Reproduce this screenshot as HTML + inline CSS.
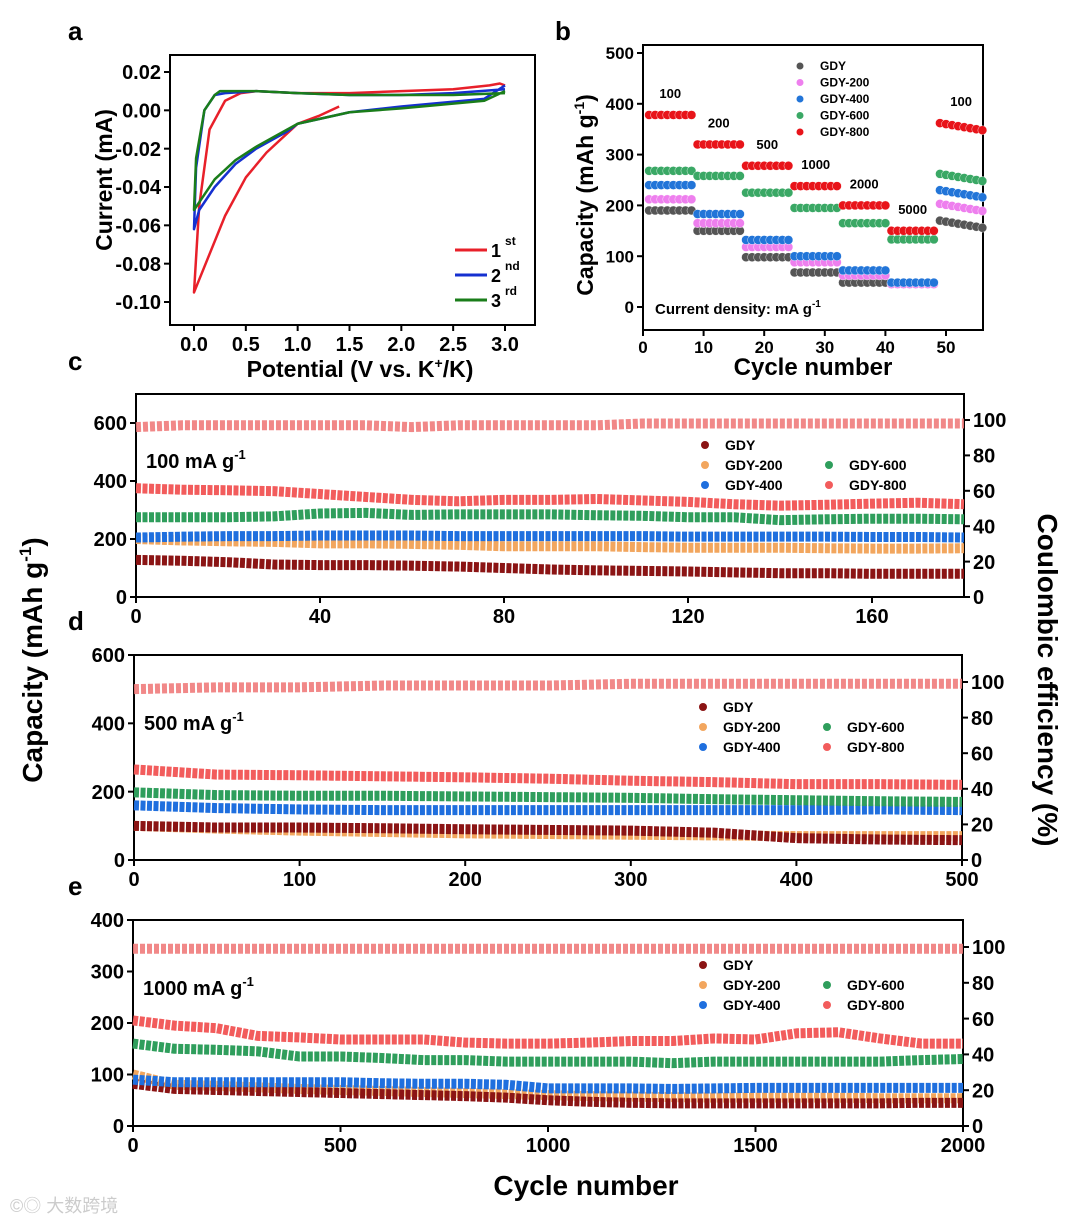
<!DOCTYPE html>
<html><head><meta charset="utf-8"><style>
body{margin:0;background:#fff}
svg{display:block;font-family:"Liberation Sans",Arial,sans-serif;font-weight:bold}
</style></head><body>
<svg id="fig" width="1080" height="1223" viewBox="0 0 1080 1223" xmlns="http://www.w3.org/2000/svg">
<text x="68" y="40" font-size="26">a</text>
<text x="555" y="40" font-size="26">b</text>
<text x="68" y="370" font-size="26">c</text>
<text x="68" y="630" font-size="26">d</text>
<text x="68" y="895" font-size="26">e</text>
<text transform="translate(112,180) rotate(-90)" text-anchor="middle" font-size="23">Current (mA)</text>
<text x="360" y="377" text-anchor="middle" font-size="23">Potential (V vs. K<tspan font-size="14" dy="-9">+</tspan><tspan dy="9">/K)</tspan></text>
<text transform="translate(593,195) rotate(-90)" text-anchor="middle" font-size="23">Capacity (mAh g<tspan font-size="14" dy="-9">-1</tspan><tspan dy="9">)</tspan></text>
<text x="813" y="375" text-anchor="middle" font-size="24">Cycle number</text>
<text transform="translate(42,660) rotate(-90)" text-anchor="middle" font-size="28">Capacity (mAh g<tspan font-size="17" dy="-11">-1</tspan><tspan dy="11">)</tspan></text>
<text transform="translate(1038,680) rotate(90)" text-anchor="middle" font-size="28">Coulombic efficiency (%)</text>
<text x="586" y="1195" text-anchor="middle" font-size="28">Cycle number</text>
<text x="10" y="1212" font-size="18" fill="#ccc" font-weight="normal" font-family="Liberation Sans, Noto Sans CJK SC, sans-serif">©◎ 大数跨境</text>
</svg>
<script>
const NS="http://www.w3.org/2000/svg";
const svg=document.getElementById('fig');
function mk(tag,attrs,parent){const e=document.createElementNS(NS,tag);for(const k in attrs)e.setAttribute(k,attrs[k]);(parent||svg).appendChild(e);return e;}

// ---------- Panel a data ----------
const cv1V=[1.4,1.2,1.0,0.9,0.7,0.5,0.3,0.15,0.0,0.05,0.15,0.3,0.45,0.6,1.0,1.5,2.0,2.5,2.85,2.95,3.0];
const cv1I=[0.002,-0.003,-0.007,-0.012,-0.022,-0.035,-0.055,-0.075,-0.095,-0.05,-0.01,0.005,0.009,0.01,0.009,0.009,0.01,0.011,0.013,0.014,0.013];
const cv2V=[3.0,2.8,2.0,1.5,1.0,0.9,0.6,0.4,0.2,0.05,0.0,0.02,0.1,0.2,0.3,0.6,1.0,1.5,2.0,2.5,3.0];
const cv2I=[0.013,0.006,0.002,-0.001,-0.007,-0.011,-0.02,-0.028,-0.04,-0.052,-0.062,-0.03,0.0,0.008,0.009,0.01,0.009,0.008,0.008,0.009,0.011];
const cv3V=[3.0,2.8,2.0,1.5,1.0,0.9,0.6,0.4,0.2,0.05,0.0,0.02,0.1,0.2,0.25,0.6,1.0,1.5,2.0,2.5,3.0];
const cv3I=[0.01,0.005,0.001,-0.001,-0.007,-0.01,-0.019,-0.026,-0.036,-0.048,-0.052,-0.025,0.0,0.008,0.01,0.01,0.009,0.008,0.008,0.008,0.009];
const cvXTicks=[0,0.5,1.0,1.5,2.0,2.5,3.0];
const cvYTicks=[0.02,0.0,-0.02,-0.04,-0.06,-0.08,-0.10];

// ---------- Panel b data ----------
const rateLabels=['100','200','500','1000','2000','5000','100'];
const rGDY=[190,150,98,68,48,45,170];
const rGDY200=[212,165,118,88,62,45,203];
const rGDY400=[240,183,132,100,72,48,230];
const rGDY600=[268,258,225,195,165,133,262];
const rGDY800=[378,320,278,238,200,150,362];
const rateXTicks=[0,10,20,30,40,50];
const rateYTicks=[0,100,200,300,400,500];

// ---------- Panel c ----------
const cCycles=[0,10,20,30,40,50,60,70,80,90,100,110,120,130,140,150,160,170,180];
const c800=[375,370,368,365,355,345,335,330,335,335,338,333,328,320,315,318,322,325,320];
const c600=[275,275,275,278,288,290,283,285,285,285,282,280,275,275,265,268,270,270,268];
const c400=[205,208,210,210,212,212,212,210,210,210,210,210,208,208,208,208,207,207,205];
const c200=[200,195,192,190,185,185,183,180,175,175,175,172,170,170,170,168,167,167,168];
const cGDY=[128,125,120,112,110,110,108,105,100,95,92,90,88,85,82,82,80,80,80];
const cCE=[96,97,97,97,97,97,96,97,97,97,97,98,98,98,98,98,98,98,98];
// ---------- Panel d ----------
const dCycles=[0,50,100,150,200,250,300,350,400,450,500];
const d800=[265,250,248,245,242,238,232,228,222,222,220];
const d600=[198,190,188,188,186,184,182,178,175,172,170];
const d400=[160,152,148,146,146,146,146,146,146,148,146];
const d200=[100,92,86,82,78,76,74,72,70,70,70];
const dGDY=[100,95,95,93,90,88,86,80,64,60,58];
const dCE=[96,97,97,98,98,98,99,99,99,99,99];
// ---------- Panel e ----------
const eCycles=[0,100,200,300,400,500,600,700,800,900,1000,1100,1200,1300,1400,1500,1600,1700,1800,1900,2000];
const e800=[205,195,190,175,172,168,168,168,162,160,160,162,165,165,170,168,180,182,170,160,160];
const e600=[160,150,148,145,135,135,132,128,128,125,125,125,125,122,125,125,125,125,125,128,130];
const e400=[90,85,85,85,85,85,83,82,82,80,73,73,73,72,73,74,74,74,74,74,74];
const e200=[100,80,78,75,72,70,68,66,64,62,60,58,57,56,55,55,55,55,54,54,54];
const eGDY=[82,72,70,68,66,64,62,60,58,55,50,47,45,44,44,44,44,44,44,45,45];
const eCE=[99,99,99,99,99,99,99,99,99,99,99,99,99,99,99,99,99,99,99,99,99];

const COL={GDY:'#8b1414',G200:'#f2a65e',G400:'#1f6fde',G600:'#2f9e5c',G800:'#f25c5c',CE:'#f07b7b'};
function lin(d0,d1,r0,r1){return v=>r0+(v-d0)*(r1-r0)/(d1-d0);}

function box(x0,y0,x1,y1,name){const r=mk('rect',{x:x0,y:y0,width:x1-x0,height:y1-y0,fill:'none',stroke:'#000','stroke-width':2});

}
function xTicks(ticks,sx,y,fs,fmt,name){ticks.forEach(t=>{const x=sx(t);
mk('line',{x1:x,y1:y,x2:x,y2:y+6,stroke:'#000','stroke-width':2});
const tx=mk('text',{x:x,y:y+fs+6,'text-anchor':'middle','font-size':fs});tx.textContent=fmt(t);

});}
function yTicks(ticks,sy,x,fs,fmt,name,right){ticks.forEach(t=>{const y=sy(t);
mk('line',{x1:x,y1:y,x2:right?x+6:x-6,y2:y,stroke:'#000','stroke-width':2});
const tx=mk('text',{x:right?x+9:x-9,y:y+fs*0.36,'text-anchor':right?'start':'end','font-size':fs});tx.textContent=fmt(t);

});}

// ===== Panel a =====
{const sx=lin(0,3,194,505), sy=lin(0.02,-0.10,72,302);
box(170,55,535,325,'cv-plot-area');
xTicks(cvXTicks,sx,325,20,v=>v.toFixed(1),'cv-x-tick');
yTicks(cvYTicks,sy,170,20,v=>v===0?'0.00':v.toFixed(2),'cv-y-tick');
[[cv1V,cv1I,'#e8202a','cv-curve-1st'],[cv2V,cv2I,'#1530d0','cv-curve-2nd'],[cv3V,cv3I,'#1a7d1a','cv-curve-3rd']].forEach(([V,I,c,n])=>{
const p=mk('polyline',{points:V.map((v,i)=>sx(v)+','+sy(I[i])).join(' '),fill:'none',stroke:c,'stroke-width':2.5,'stroke-linejoin':'round'});

});
[['#e8202a','1','st',250],['#1530d0','2','nd',275],['#1a7d1a','3','rd',300]].forEach(([c,a,b,y])=>{
const g=mk('g',{});


mk('line',{x1:455,y1:y,x2:487,y2:y,stroke:c,'stroke-width':3},g);
const t=mk('text',{x:491,y:y+7,'font-size':18},g);t.innerHTML=a+'<tspan font-size="12" dy="-12" dx="4">'+b+'</tspan>';});}

// ===== Panel b =====
{const sx=lin(0,50,643,946), sy=lin(0,500,307,53);
box(643,45,983,330,'rate-plot-area');
xTicks(rateXTicks,sx,330,17,v=>v,'rate-x-tick');
yTicks(rateYTicks,sy,643,17,v=>v,'rate-y-tick');
const series=[['GDY',rGDY,'#555'],['GDY-200',rGDY200,'#ee7fee'],['GDY-400',rGDY400,'#2275d8'],['GDY-600',rGDY600,'#3aa865'],['GDY-800',rGDY800,'#e8141a']];
series.forEach(([n,arr,c],si)=>{arr.forEach((v,s)=>{for(let k=1;k<=8;k++){const cyc=s*8+k;
const m=mk('circle',{cx:sx(cyc),cy:sy(v+(s===6?-(k-1)*2:0)),r:4.5,fill:c,stroke:'#fff','stroke-width':0.4});

}});
const ly=66+si*16.5;
const lc=mk('circle',{cx:800,cy:ly,r:3.5,fill:c});


const lt=mk('text',{x:820,y:ly+4,'font-size':12});lt.textContent=n;

});
rateLabels.forEach((l,s)=>{const top=rGDY800[s];
const t=mk('text',{x:sx(s*8+4.5),y:sy(top)-17,'text-anchor':'middle','font-size':13});t.textContent=l;

});
const cd=mk('text',{x:655,y:314,'font-size':15});cd.innerHTML='Current density: mA g<tspan font-size="10" dy="-7">-1</tspan>';

}

// ===== cycling panels =====
function cyclePanel(cfg){
const sx=lin(0,cfg.xmax,cfg.x0,cfg.x1), sy=lin(0,cfg.ymax,cfg.yb,cfg.yt), sr=lin(0,100,cfg.yb,cfg.r100);
box(cfg.x0,cfg.top,cfg.x1,cfg.yb,cfg.id+'-plot-area');
xTicks(cfg.xt,sx,cfg.yb,20,v=>v,cfg.id+'-x-tick');
yTicks(cfg.yt_,sy,cfg.x0,20,v=>v,cfg.id+'-capacity-tick');
yTicks([0,20,40,60,80,100],sr,cfg.x1,20,v=>v,cfg.id+'-ce-tick',true);
const ser=[['GDY',cfg.gdy,COL.GDY],['GDY-200',cfg.g200,COL.G200],['GDY-400',cfg.g400,COL.G400],['GDY-600',cfg.g600,COL.G600],['GDY-800',cfg.g800,COL.G800]];
[1,0,2,3,4].forEach(i=>{const [n,arr,c]=ser[i];
const p=mk('polyline',{points:cfg.cyc.map((x,k)=>sx(x)+','+sy(arr[k])).join(' '),fill:'none',stroke:c,'stroke-width':10,'stroke-linejoin':'round','stroke-dasharray':'5 1.5'});

});
const ce=mk('polyline',{points:cfg.cyc.map((x,k)=>sx(x)+','+sr(cfg.ce[k])).join(' '),fill:'none',stroke:COL.CE,'stroke-width':10,'stroke-dasharray':'5 2',opacity:0.9});


const rl=mk('text',{x:cfg.x0+10,y:cfg.labY,'font-size':20});rl.innerHTML=cfg.label+' mA g<tspan font-size="13" dy="-9">-1</tspan>';


const L=[['GDY',COL.GDY,0,0],['GDY-200',COL.G200,0,1],['GDY-400',COL.G400,0,2],['GDY-600',COL.G600,1,1],['GDY-800',COL.G800,1,2]];
L.forEach(([n,c,col,row])=>{const x=cfg.legX+col*124,y=cfg.legY+row*20;
const m=mk('circle',{cx:x,cy:y,r:4,fill:c});


const t=mk('text',{x:x+20,y:y+5,'font-size':14});t.textContent=n;

});}

cyclePanel({id:'c',xmax:180,x0:136,x1:964,top:394,yb:597,ymax:600,yt:423,r100:420,xt:[0,40,80,120,160],yt_:[0,200,400,600],
cyc:cCycles,gdy:cGDY,g200:c200,g400:c400,g600:c600,g800:c800,ce:cCE,label:'100',labY:468,legX:705,legY:445});
cyclePanel({id:'d',xmax:500,x0:134,x1:962,top:655,yb:860,ymax:600,yt:655,r100:682,xt:[0,100,200,300,400,500],yt_:[0,200,400,600],
cyc:dCycles,gdy:dGDY,g200:d200,g400:d400,g600:d600,g800:d800,ce:dCE,label:'500',labY:730,legX:703,legY:707});
cyclePanel({id:'e',xmax:2000,x0:133,x1:963,top:920,yb:1126,ymax:400,yt:920,r100:947,xt:[0,500,1000,1500,2000],yt_:[0,100,200,300,400],
cyc:eCycles,gdy:eGDY,g200:e200,g400:e400,g600:e600,g800:e800,ce:eCE,label:'1000',labY:995,legX:703,legY:965});
</script>
</body></html>
